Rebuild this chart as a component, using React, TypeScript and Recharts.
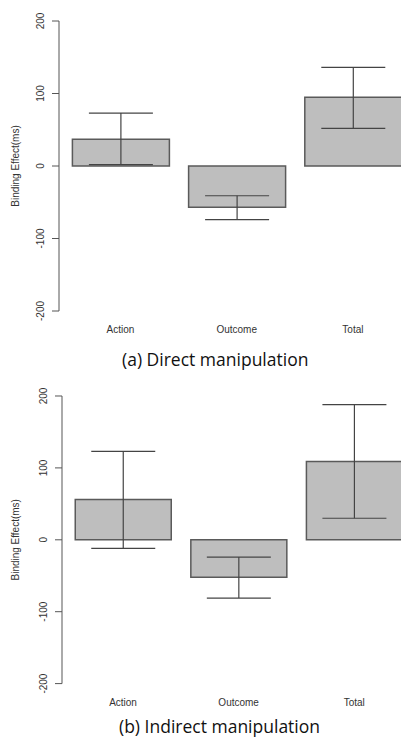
import { BarChart, Bar, XAxis, YAxis, ErrorBar } from "recharts";

const categories = ["Action", "Outcome", "Total"];
const yTicks = [-200, -100, 0, 100, 200];

// (a) direct manipulation: mean binding effect and interval bounds (ms)
const directMeans = [37, -57, 95];
const directLower = [2, -74, 52];
const directUpper = [73, -41, 136];

// (b) indirect manipulation
const indirectMeans = [56, -52, 109];
const indirectLower = [-12, -81, 30];
const indirectUpper = [123, -24, 188];

const AXIS_FONT = "'Liberation Sans', Arial, sans-serif";
const TEXT_COLOR = "#333";

function buildRows(means: number[], lower: number[], upper: number[]) {
  return categories.map((name, i) => ({
    name,
    value: means[i],
    err: [means[i] - lower[i], upper[i] - means[i]],
  }));
}

function YTick({ x, y, payload }: any) {
  const tx = x - 8;
  return (
    <text
      x={tx}
      y={y}
      transform={`rotate(-90 ${tx} ${y})`}
      textAnchor="middle"
      fontSize={10}
      fontFamily={AXIS_FONT}
      fill={TEXT_COLOR}
    >
      {payload.value}
    </text>
  );
}

function XTick({ x, y, payload }: any) {
  return (
    <text
      x={x}
      y={y + 22}
      textAnchor="middle"
      fontSize={10}
      fontFamily={AXIS_FONT}
      fill={TEXT_COLOR}
    >
      {payload.value}
    </text>
  );
}

interface PanelProps {
  rows: ReturnType<typeof buildRows>;
  top: number;
  width: number;
  axisWidth: number;
  plotTop: number;
  plotHeight: number;
  padLeft: number;
  barSize: number;
  caption: string;
  captionLeft: number;
  captionTop: number;
}

function Panel({
  rows,
  top,
  width,
  axisWidth,
  plotTop,
  plotHeight,
  padLeft,
  barSize,
  caption,
  captionLeft,
  captionTop,
}: PanelProps) {
  const xAxisHeight = 30;
  return (
    <>
      <div style={{ position: "absolute", left: 0, top }}>
        <BarChart
          width={width}
          height={plotTop + plotHeight + xAxisHeight}
          data={rows}
          margin={{ top: plotTop, right: 0, left: 0, bottom: 0 }}
        >
          <XAxis
            dataKey="name"
            axisLine={false}
            tickLine={false}
            tickSize={0}
            tickMargin={0}
            height={xAxisHeight}
            interval={0}
            padding={{ left: padLeft, right: 0 }}
            tick={<XTick />}
          />
          <YAxis
            width={axisWidth}
            domain={[-200, 200]}
            ticks={yTicks}
            interval={0}
            tickSize={7}
            tickMargin={0}
            axisLine={{ stroke: "#555", strokeWidth: 1 }}
            tickLine={{ stroke: "#555", strokeWidth: 1 }}
            tick={<YTick />}
            label={{
              content: ({ viewBox }: any) => {
                const cy = viewBox.y + viewBox.height / 2;
                return (
                  <text
                    x={19}
                    y={cy}
                    transform={`rotate(-90 19 ${cy})`}
                    textAnchor="middle"
                    fontSize={10}
                    fontFamily={AXIS_FONT}
                    fill={TEXT_COLOR}
                  >
                    Binding Effect(ms)
                  </text>
                );
              },
            }}
          />
          <Bar
            dataKey="value"
            fill="#bebebe"
            stroke="#5a5a5a"
            strokeWidth={1.5}
            barSize={barSize}
            isAnimationActive={false}
          >
            <ErrorBar
              dataKey="err"
              direction="y"
              width={32}
              stroke="#444"
              strokeWidth={1.2}
            />
          </Bar>
        </BarChart>
      </div>
      <div
        style={{
          position: "absolute",
          left: captionLeft,
          top: captionTop,
          fontFamily: "'Open Sans', 'Noto Sans', sans-serif",
          fontSize: 17.5,
          lineHeight: "22px",
          color: "#111",
          whiteSpace: "nowrap",
        }}
      >
        {caption}
      </div>
    </>
  );
}

export default function App() {
  return (
    <div
      style={{
        position: "absolute",
        left: 0,
        top: 0,
        width: 401,
        height: 738,
        overflow: "hidden",
        background: "#fff",
      }}
    >
      <Panel
        rows={buildRows(directMeans, directLower, directUpper)}
        top={0}
        width={411}
        axisWidth={59}
        plotTop={21}
        plotHeight={290}
        padLeft={3.4}
        barSize={97}
        caption="(a) Direct manipulation"
        captionLeft={122}
        captionTop={348}
      />
      <Panel
        rows={buildRows(indirectMeans, indirectLower, indirectUpper)}
        top={375}
        width={412}
        axisWidth={62}
        plotTop={21}
        plotHeight={287.6}
        padLeft={3.25}
        barSize={96}
        caption="(b) Indirect manipulation"
        captionLeft={119}
        captionTop={715}
      />
    </div>
  );
}
